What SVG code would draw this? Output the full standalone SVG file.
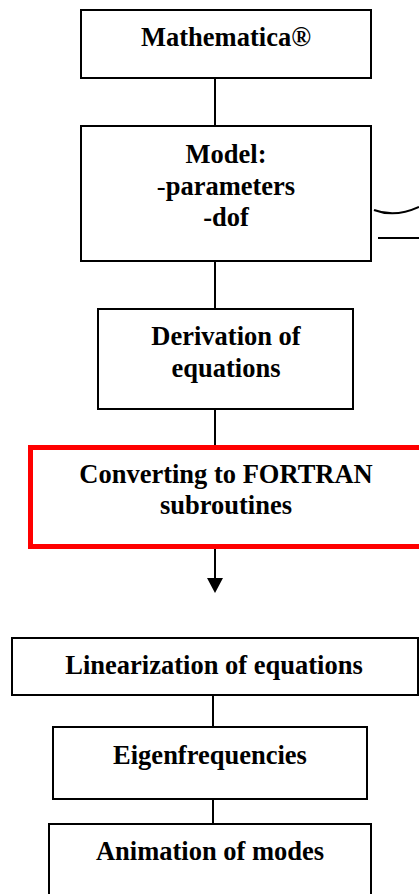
<svg xmlns="http://www.w3.org/2000/svg" width="419" height="894" viewBox="0 0 419 894">
<style>
.box{fill:#fff;stroke:#000;stroke-width:2}
.red{fill:#fff;stroke:#ff0000;stroke-width:5}
.t{font-family:"Liberation Serif","Times New Roman",serif;font-weight:bold;font-size:26.5px;fill:#000;text-anchor:middle}
.c{stroke:#000;stroke-width:2;fill:none}
.n{font-weight:normal}
</style>
<defs>
<marker id="ah" markerWidth="16" markerHeight="15" refX="8" refY="15" orient="auto-start-reverse" markerUnits="userSpaceOnUse" viewBox="0 0 16 15">
<polygon points="0,0 16,0 8,15" fill="#000"/>
</marker>
</defs>
<g id="connectors">
<line class="c" x1="215" y1="78" x2="215" y2="126"/>
<line class="c" x1="215" y1="261" x2="215" y2="309"/>
<line class="c" x1="215" y1="409" x2="215" y2="445"/>
<path d="M215 549 V578" class="c"/>
<polygon points="207,578 223,578 215,593" fill="#000"/>
<line class="c" x1="213" y1="695" x2="213" y2="727"/>
<line class="c" x1="213" y1="799" x2="213" y2="824"/>
<path class="c" d="M374 210 Q395 218 419 207"/>
<line class="c" x1="378" y1="238" x2="419" y2="238"/>
</g>
<g id="mathematica">
<rect class="box" x="81" y="10" width="290" height="68"/>
<text class="t" x="226" y="46">Mathematica®</text>
</g>
<g id="model">
<rect class="box" x="81" y="126" width="290" height="135"/>
<text class="t" x="226" y="163">Model:</text>
<text class="t" x="226" y="194.5"><tspan class="n">-</tspan>parameters</text>
<text class="t" x="226" y="226">-dof</text>
</g>
<g id="derivation">
<rect class="box" x="98" y="309" width="255" height="100"/>
<text class="t" x="226" y="345">Derivation of</text>
<text class="t" x="226" y="377">equations</text>
</g>
<g id="fortran">
<rect class="red" x="30.5" y="447.5" width="391" height="99"/>
<text class="t" x="226" y="483">Converting to FORTRAN</text>
<text class="t" x="226" y="513.5">subroutines</text>
</g>
<g id="linearization">
<rect class="box" x="12" y="638" width="406" height="57"/>
<text class="t" x="214" y="673.5">Linearization of equations</text>
</g>
<g id="eigen">
<rect class="box" x="53" y="727" width="314" height="72"/>
<text class="t" x="210" y="763.5">Eigenfrequencies</text>
</g>
<g id="animation">
<rect class="box" x="49" y="824" width="322" height="90"/>
<text class="t" x="210" y="860">Animation of modes</text>
</g>
</svg>
